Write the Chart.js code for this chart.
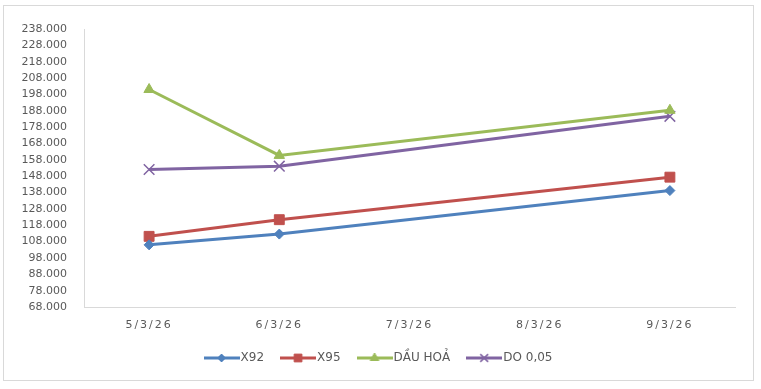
<!DOCTYPE html>
<html>
<head>
<meta charset="utf-8">
<script src="https://cdn.jsdelivr.net/npm/chart.js@4.4.1/dist/chart.umd.min.js"></script>
<style>
  html, body { margin: 0; padding: 0; background: #fff; }
  #wrap { width: 761px; height: 389px; position: relative; }
</style>
</head>
<body>
<div id="wrap"><canvas id="chart" width="761" height="389"></canvas></div>
<script>
// Data
const DATES = ["5/3/26", "6/3/26", "7/3/26", "8/3/26", "9/3/26"];
const X92 = [106000, 112600, null, null, 139200];
const X95 = [111200, 121400, null, null, 147400];
const DAU_HOA = [201000, 160700, null, null, 188300];
const DO_005 = [152100, 154100, null, null, 184600];
const Y_MIN = 68000;
const Y_MAX = 238000;
const Y_STEP = 10000;

const FONT = "'DejaVu Sans', sans-serif";
const TEXT_COLOR = "#595959";
const AXIS_COLOR = "#d9d9d9";

// Format 238000 -> 238.000
function fmt(v) {
  return String(v).replace(/\B(?=(\d{3})+(?!\d))/g, ".");
}

// Little line + marker picture for the legend
function legendIcon(color, style, radius, borderWidth) {
  const c = document.createElement("canvas");
  c.width = 36;
  c.height = 14;
  const g = c.getContext("2d");
  g.strokeStyle = color;
  g.lineWidth = 3;
  g.beginPath();
  g.moveTo(0, 7);
  g.lineTo(36, 7);
  g.stroke();
  g.fillStyle = color;
  g.lineWidth = borderWidth;
  Chart.helpers.drawPoint(g, { pointStyle: style, radius: radius, rotation: 0, borderWidth: borderWidth }, 18, 7);
  return c;
}

function series(label, data, color, style, radius, bw, iconRadius) {
  return {
    label: label,
    data: data,
    borderColor: color,
    backgroundColor: color,
    borderWidth: 3,
    pointStyle: style,
    pointRadius: radius,
    pointHoverRadius: radius,
    pointBorderWidth: bw,
    pointBackgroundColor: color,
    pointBorderColor: color,
    tension: 0,
    spanGaps: true,
    icon: legendIcon(color, style, iconRadius, bw),
  };
}

// Chart frame + white background
const framePlugin = {
  id: "frame",
  beforeDraw(chart) {
    const ctx = chart.ctx;
    ctx.save();
    ctx.fillStyle = "#fff";
    ctx.fillRect(0, 0, chart.width, chart.height);
    ctx.strokeStyle = AXIS_COLOR;
    ctx.lineWidth = 1;
    ctx.strokeRect(3.5, 5.5, 750, 375);
    ctx.restore();

    // spaced-out date labels like the original
    const s = chart.scales.x;
    if (s && !s._spaced) {
      const orig = s.drawLabels.bind(s);
      s.drawLabels = function (area) {
        this.ctx.save();
        this.ctx.letterSpacing = "2px";
        orig(area);
        this.ctx.restore();
      };
      s._spaced = true;
    }
  },
};

const ctx = document.getElementById("chart").getContext("2d");
const chart = new Chart(ctx, {
  type: "line",
  data: {
    labels: DATES,
    datasets: [
      series("X92", X92, "#4F81BD", "rectRot", 5, 1, 4),
      series("X95", X95, "#C0504D", "rect", 7, 1, 5.5),
      series("DẦU HOẢ", DAU_HOA, "#9BBB59", "triangle", 6, 1, 5),
      series("DO 0,05", DO_005, "#8064A2", "crossRot", 7.5, 1.5, 5.5),
    ],
  },
  options: {
    responsive: false,
    animation: false,
    layout: { padding: { left: 10, right: 10, top: 29, bottom: 15 } },
    plugins: {
      tooltip: { enabled: false },
      legend: {
        position: "bottom",
        labels: {
          usePointStyle: true,
          pointStyleWidth: 26,
          padding: 21,
          color: TEXT_COLOR,
          font: { family: FONT, size: 12 },
          generateLabels(chart) {
            return chart.data.datasets.map((d, i) => ({
              text: d.label,
              pointStyle: d.icon,
              fillStyle: d.borderColor,
              strokeStyle: d.borderColor,
              lineWidth: 0,
              fontColor: TEXT_COLOR,
              hidden: false,
              datasetIndex: i,
            }));
          },
        },
      },
    },
    scales: {
      x: {
        offset: true,
        grid: { display: false, drawTicks: false },
        border: { display: true, color: AXIS_COLOR },
        ticks: {
          color: TEXT_COLOR,
          font: { family: FONT, size: 11 },
          padding: 12,
          maxRotation: 0,
        },
        afterFit(scale) { scale.height = 24; },
      },
      y: {
        min: Y_MIN,
        max: Y_MAX,
        grid: { display: false, drawTicks: false },
        border: { display: true, color: AXIS_COLOR },
        ticks: {
          stepSize: Y_STEP,
          color: TEXT_COLOR,
          font: { family: FONT, size: 11 },
          padding: 17,
          callback: (v) => fmt(v),
        },
        afterFit(scale) { scale.width = 74; },
      },
      // empty right-hand spacer so the plot ends where the original does
      spacer: {
        position: "right",
        min: Y_MIN,
        max: Y_MAX,
        grid: { display: false, drawTicks: false },
        border: { display: false },
        ticks: { display: false },
        afterFit(scale) { scale.width = 16; },
      },
    },
  },
  plugins: [framePlugin],
});
</script>
</body>
</html>
